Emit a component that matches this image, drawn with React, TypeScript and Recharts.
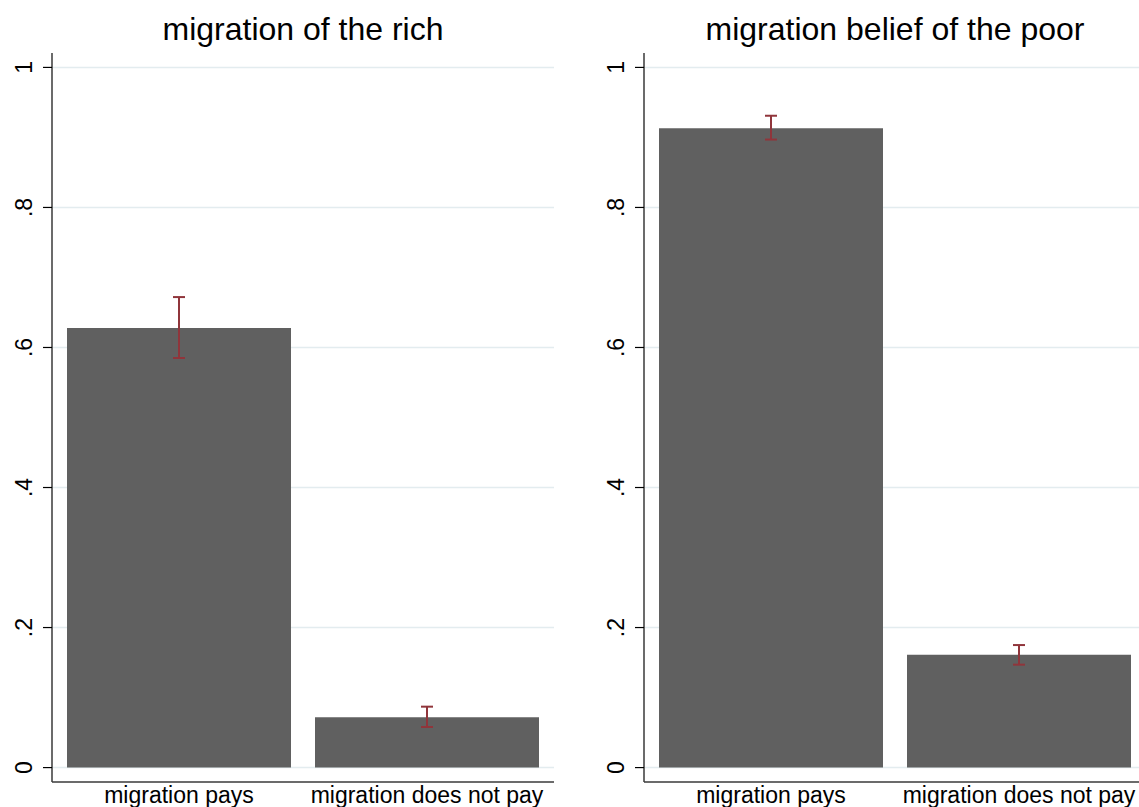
import React from "react";
import { BarChart, Bar, XAxis, YAxis, CartesianGrid, ErrorBar } from "recharts";

const categories = ["migration pays", "migration does not pay"];

const richMean = [0.628, 0.072];
const richLow = [0.585, 0.058];
const richHigh = [0.672, 0.087];

const poorMean = [0.913, 0.161];
const poorLow = [0.897, 0.147];
const poorHigh = [0.931, 0.175];

const yTicks = [0, 0.2, 0.4, 0.6, 0.8, 1];
const yTickLabels = ["0", ".2", ".4", ".6", ".8", "1"];

const FONT = '"Liberation Sans", Arial, Helvetica, sans-serif';
const BAR_COLOR = "#606060";
const ERR_COLOR = "#90353b";
const GRID_COLOR = "#e3ecef";
const AXIS_COLOR = "#3a3a3a";

const buildRows = (mean: number[], low: number[], high: number[]) =>
  categories.map((name, i) => ({
    name,
    value: mean[i],
    err: [mean[i] - low[i], high[i] - mean[i]],
  }));

const YTick = (props: any) => {
  const { x, y, payload } = props;
  const idx = yTicks.indexOf(payload.value);
  const label = idx >= 0 ? yTickLabels[idx] : String(payload.value);
  return (
    <text
      transform={`translate(${x},${y}) rotate(-90)`}
      textAnchor="middle"
      fontSize={23}
      fontFamily={FONT}
      fill="#000"
    >
      {label}
    </text>
  );
};

const XTick = (props: any) => {
  const { x, y, payload } = props;
  return (
    <text x={x} y={y + 21} textAnchor="middle" fontSize={23} fontFamily={FONT} fill="#000">
      {payload.value}
    </text>
  );
};

interface PanelProps {
  title: string;
  rows: { name: string; value: number; err: number[] }[];
  left: number;
}

const Panel: React.FC<PanelProps> = ({ title, rows, left }) => (
  <div style={{ position: "absolute", left, top: 0, width: 556, height: 807 }}>
    <div
      style={{
        position: "absolute",
        left: 52,
        top: 13,
        width: 502,
        textAlign: "center",
        fontFamily: FONT,
        fontSize: 32,
        lineHeight: "32px",
        color: "#000",
        whiteSpace: "nowrap",
      }}
    >
      {title}
    </div>
    <BarChart
      width={556}
      height={807}
      data={rows}
      margin={{ top: 53, right: 2, bottom: 0, left: 0 }}
      barSize={224}
    >
      <CartesianGrid
        vertical={false}
        horizontalValues={yTicks}
        stroke={GRID_COLOR}
        strokeWidth={1.5}
      />
      <XAxis
        dataKey="name"
        height={25}
        padding={{ left: 3, right: 3 }}
        tickLine={false}
        tickSize={0}
        tickMargin={0}
        axisLine={{ stroke: AXIS_COLOR, strokeWidth: 1.5 }}
        tick={<XTick />}
        interval={0}
      />
      <YAxis
        type="number"
        width={52}
        domain={[-0.0206, 1.0206]}
        ticks={yTicks}
        allowDataOverflow
        tickSize={9}
        tickMargin={11}
        tickLine={{ stroke: "#000", strokeWidth: 1.2 }}
        axisLine={{ stroke: AXIS_COLOR, strokeWidth: 1.5 }}
        tick={<YTick />}
        interval={0}
      />
      <Bar dataKey="value" fill={BAR_COLOR} isAnimationActive={false}>
        <ErrorBar dataKey="err" direction="y" width={6} stroke={ERR_COLOR} strokeWidth={2} />
      </Bar>
    </BarChart>
  </div>
);

export default function App() {
  return (
    <div
      style={{
        position: "absolute",
        left: 0,
        top: 0,
        width: 1139,
        height: 807,
        overflow: "hidden",
        background: "#fff",
      }}
    >
      <Panel title="migration of the rich" rows={buildRows(richMean, richLow, richHigh)} left={0} />
      <Panel
        title="migration belief of the poor"
        rows={buildRows(poorMean, poorLow, poorHigh)}
        left={592}
      />
    </div>
  );
}
